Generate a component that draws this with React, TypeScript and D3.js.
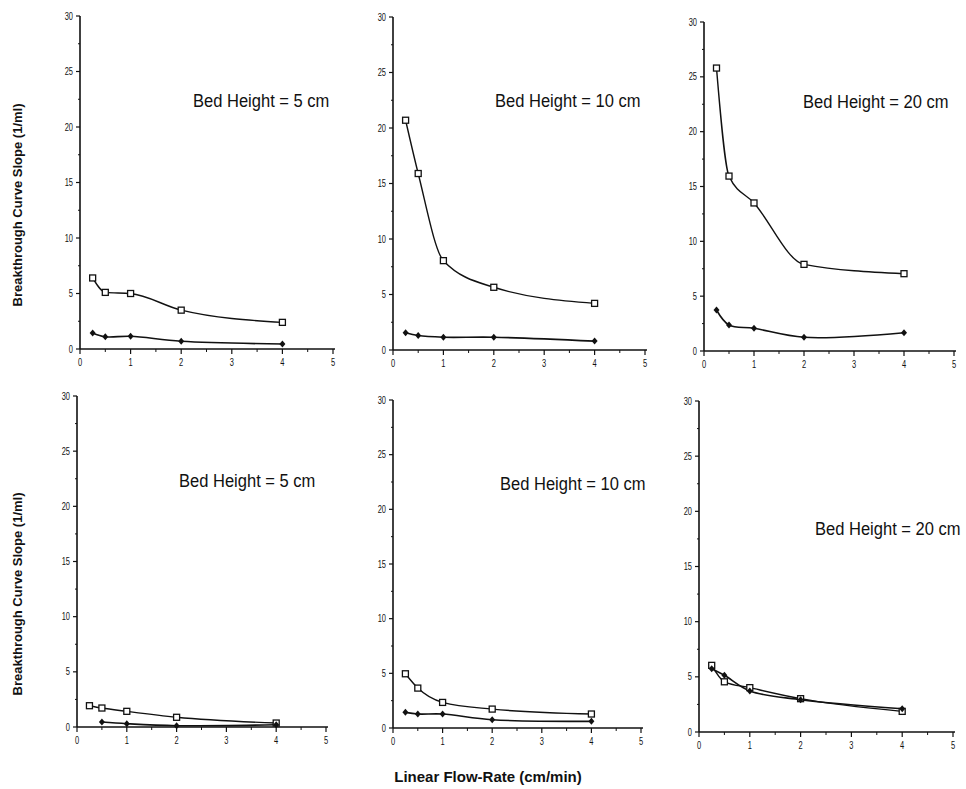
import React from "react";
import * as d3 from "d3";

// ---- data ----
const flowRates = [0.25, 0.5, 1, 2, 4];
const xTicks = [0, 1, 2, 3, 4, 5];
const yTicks = [0, 5, 10, 15, 20, 25, 30];
const titles = [
  "Bed Height = 5 cm",
  "Bed Height = 10 cm",
  "Bed Height = 20 cm",
  "Bed Height = 5 cm",
  "Bed Height = 10 cm",
  "Bed Height = 20 cm",
];
// square-marker series
const squareTop5 = [6.4, 5.1, 5.0, 3.5, 2.4];
const squareTop10 = [20.7, 15.9, 8.05, 5.65, 4.2];
const squareTop20 = [25.8, 15.95, 13.5, 7.9, 7.05];
const squareBot5 = [1.93, 1.72, 1.42, 0.88, 0.36];
const squareBot10 = [4.96, 3.65, 2.34, 1.73, 1.28];
const squareBot20 = [6.04, 4.55, 4.02, 3.02, 1.87];
// plus/diamond-marker series
const plusTop5 = [1.45, 1.1, 1.15, 0.7, 0.45];
const plusTop10 = [1.56, 1.3, 1.15, 1.15, 0.8];
const plusTop20 = [3.74, 2.37, 2.07, 1.25, 1.67];
const plusBot5X = [0.5, 1, 2, 4];
const plusBot5 = [0.45, 0.3, 0.12, 0.2];
const plusBot10 = [1.43, 1.28, 1.28, 0.76, 0.61];
const plusBot20 = [5.74, 5.14, 3.72, 2.93, 2.11];

const squareSeries = [squareTop5, squareTop10, squareTop20, squareBot5, squareBot10, squareBot20];
const plusSeries = [plusTop5, plusTop10, plusTop20, plusBot5, plusBot10, plusBot20];
const plusXs = [flowRates, flowRates, flowRates, plusBot5X, flowRates, flowRates];

// ---- layout (pixel geometry) ----
const layout = [
  { x0: 80, x1: 333, y0: 349, y1: 16, tx: 193, ty: 107 },
  { x0: 393, x1: 645, y0: 350, y1: 17, tx: 495, ty: 107 },
  { x0: 704, x1: 954, y0: 351, y1: 22, tx: 803, ty: 108 },
  { x0: 77, x1: 326, y0: 727, y1: 396, tx: 179, ty: 487 },
  { x0: 393, x1: 641, y0: 728, y1: 400, tx: 500, ty: 490 },
  { x0: 699, x1: 953, y0: 732, y1: 401, tx: 815, ty: 535 },
];
const TITLE_SX = 0.87;

const INK = "#111";
const SANS = "'Liberation Sans', Arial, sans-serif";

function Panel({ i }: { i: number }) {
  const L = layout[i];
  const x = d3.scaleLinear().domain([0, 5]).range([L.x0, L.x1]);
  const y = d3.scaleLinear().domain([0, 30]).range([L.y0, L.y1]);
  const sqLine = d3
    .line<[number, number]>()
    .x((d) => x(d[0]))
    .y((d) => y(d[1]))
    .curve(d3.curveMonotoneX);
  const plLine = d3
    .line<[number, number]>()
    .x((d) => x(d[0]))
    .y((d) => y(d[1]))
    .curve(d3.curveCatmullRom.alpha(0.5));
  const sq: [number, number][] = flowRates.map((f, k) => [f, squareSeries[i][k]]);
  const pl: [number, number][] = plusXs[i].map((f, k) => [f, plusSeries[i][k]]);
  const minorX = d3.range(0.5, 5, 1);
  const minorY = d3.range(2.5, 30, 5);
  return (
    <g>
      {/* axes */}
      <line x1={x(0)} x2={x(5) + 2} y1={y(0)} y2={y(0)} stroke={INK} strokeWidth={1.6} />
      <line x1={x(0)} x2={x(0)} y1={y(0)} y2={y(30)} stroke={INK} strokeWidth={1.6} />
      {xTicks.map((t) => (
        <g key={"xt" + t}>
          <line x1={x(t)} x2={x(t)} y1={y(0)} y2={y(0) + 5} stroke={INK} strokeWidth={1.2} />
          <text
            x={0}
            y={0}
            textAnchor="middle"
            fontSize={10}
            fontFamily={SANS}
            fill={INK}
            transform={`translate(${x(t)},${y(0) + 17}) scale(0.75,1)`}
          >
            {t}
          </text>
        </g>
      ))}
      {minorX.map((t) => (
        <line key={"mx" + t} x1={x(t)} x2={x(t)} y1={y(0)} y2={y(0) + 3} stroke={INK} strokeWidth={1} />
      ))}
      {yTicks.map((t) => (
        <g key={"yt" + t}>
          <line x1={x(0) - 4} x2={x(0)} y1={y(t)} y2={y(t)} stroke={INK} strokeWidth={1.2} />
          <text
            x={0}
            y={0}
            textAnchor="end"
            fontSize={10}
            fontFamily={SANS}
            fill={INK}
            transform={`translate(${x(0) - 7},${y(t) + 3.5}) scale(0.75,1)`}
          >
            {t}
          </text>
        </g>
      ))}
      {minorY.map((t) => (
        <line key={"my" + t} x1={x(0) - 2} x2={x(0)} y1={y(t)} y2={y(t)} stroke={INK} strokeWidth={1} />
      ))}
      {/* lines */}
      <path d={sqLine(sq) || ""} fill="none" stroke={INK} strokeWidth={1.4} />
      <path d={plLine(pl) || ""} fill="none" stroke={INK} strokeWidth={1.6} />
      {/* markers */}
      {sq.map((d, k) => (
        <rect
          key={"s" + k}
          x={x(d[0]) - 3}
          y={y(d[1]) - 3}
          width={6}
          height={6}
          fill="#fff"
          stroke={INK}
          strokeWidth={1.3}
        />
      ))}
      {pl.map((d, k) => {
        const cx = x(d[0]);
        const cy = y(d[1]);
        return (
          <path
            key={"p" + k}
            d={`M${cx},${cy - 3.5}L${cx + 3},${cy}L${cx},${cy + 3.5}L${cx - 3},${cy}Z`}
            fill={INK}
          />
        );
      })}
      <text
        x={0}
        y={0}
        fontSize={19}
        fontFamily={SANS}
        fill={INK}
        transform={`translate(${L.tx},${L.ty}) scale(${TITLE_SX},1)`}
      >
        {titles[i]}
      </text>
    </g>
  );
}

export default function App() {
  return (
    <svg
      width={966}
      height={789}
      style={{ position: "absolute", left: 0, top: 0, background: "#fff" }}
    >
      <rect width={966} height={789} fill="#fff" />
      {layout.map((_, i) => (
        <Panel key={i} i={i} />
      ))}
      <text
        transform="translate(22,205) rotate(-90)"
        textAnchor="middle"
        fontSize={13}
        fontWeight="bold"
        fontFamily={SANS}
        fill={INK}
      >
        Breakthrough Curve Slope (1/ml)
      </text>
      <text
        transform="translate(22,594) rotate(-90)"
        textAnchor="middle"
        fontSize={13}
        fontWeight="bold"
        fontFamily={SANS}
        fill={INK}
      >
        Breakthrough Curve Slope (1/ml)
      </text>
      <text
        x={488}
        y={782}
        textAnchor="middle"
        fontSize={15}
        fontWeight="bold"
        fontFamily={SANS}
        fill={INK}
      >
        Linear Flow-Rate (cm/min)
      </text>
    </svg>
  );
}
